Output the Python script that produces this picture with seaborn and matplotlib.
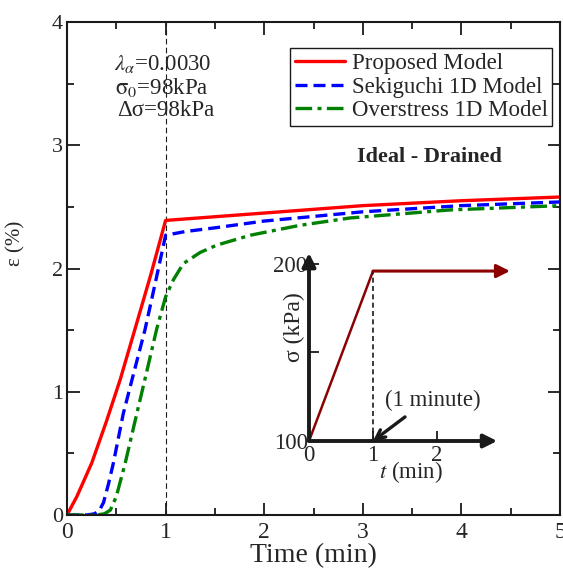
import numpy as np
import pandas as pd
import matplotlib
matplotlib.use("Agg")
import matplotlib.pyplot as plt
import seaborn as sns

# Strain-time response for three constitutive models (ramp loading for 1 min, then creep)
red_t = [0, 0.1, 0.25, 0.4, 0.54, 0.69, 0.85, 1.0, 1.5, 2, 3, 4, 5]
red_e = [0, 0.15, 0.42, 0.76, 1.10, 1.51, 1.95, 2.39, 2.42, 2.45, 2.51, 2.55, 2.58]

blue_t = [0, 0.2, 0.28, 0.33, 0.37, 0.42, 0.47, 0.57, 0.66, 0.79, 0.9, 1.0,
          1.2, 1.5, 2, 3, 4, 5]
blue_e = [0, 0, 0.01, 0.04, 0.1, 0.25, 0.42, 0.82, 1.1, 1.5, 1.9, 2.27,
          2.30, 2.33, 2.385, 2.46, 2.51, 2.54]

green_t = [0, 0.3, 0.38, 0.44, 0.5, 0.59, 0.71, 0.79, 0.91, 1.0, 1.08, 1.18,
           1.35, 1.52, 1.86, 2.36, 2.87, 3.88, 5]
green_e = [0, 0, 0.01, 0.04, 0.15, 0.42, 0.83, 1.1, 1.51, 1.77, 1.91, 2.04,
           2.13, 2.19, 2.27, 2.35, 2.41, 2.475, 2.51]

series_names = ["Proposed Model", "Sekiguchi 1D Model", "Overstress 1D Model"]

# Loading history for the inset
stress_t = [0, 1, 3.14]
stress_kpa = [100, 196, 196]

sns.set_theme(style="ticks")
plt.rcParams["font.family"] = ["Liberation Serif", "DejaVu Serif"]
plt.rcParams["mathtext.fontset"] = "stix"

fig = plt.figure(figsize=(5.63, 5.70), dpi=100)
ax = fig.add_axes([67 / 563, 55 / 570, 493 / 563, 493 / 570])

sns.lineplot(x=red_t, y=red_e, ax=ax, color="#ff0000", lw=2.4,
             label=series_names[0], sort=False)
sns.lineplot(x=blue_t, y=blue_e, ax=ax, color="#0000ff", lw=2.4,
             label=series_names[1], sort=False, linestyle=(0, (3.6, 1.8)))
sns.lineplot(x=green_t, y=green_e, ax=ax, color="#008000", lw=2.4,
             label=series_names[2], sort=False,
             linestyle=(0, (5.0, 1.6, 1.2, 1.6)))

ax.axvline(1, color="k", lw=0.8, ls=(0, (5, 3)), zorder=1)

ax.set_xlim(0, 5)
ax.set_ylim(0, 4)
ax.set_xticks([0, 1, 2, 3, 4, 5])
ax.set_yticks([0, 1, 2, 3, 4])
ax.set_xticks(np.arange(0, 5.01, 0.5), minor=True)
ax.set_yticks(np.arange(0, 4.01, 0.5), minor=True)
ax.tick_params(which="both", direction="in", top=True, right=True,
               width=1.3, color="k")
ax.tick_params(which="major", length=9)
ax.tick_params(which="minor", length=5)
ax.tick_params(axis="x", labelsize=17, pad=5)
ax.tick_params(axis="y", labelsize=16, pad=3)
for s in ax.spines.values():
    s.set_linewidth(1.5)
    s.set_color("k")
    s.set_visible(True)

ax.set_xlabel("Time (min)", fontsize=20, labelpad=0)
ax.set_ylabel("ε (%)", fontsize=15)
ax.yaxis.set_label_coords(-0.085, 0.55)

leg = ax.legend(loc="upper right", bbox_to_anchor=(0.984, 0.947),
                borderaxespad=0, fontsize=16.5, frameon=True, fancybox=False,
                edgecolor="k", framealpha=1, handlelength=2.2,
                handletextpad=0.28, labelspacing=0.12, borderpad=0.2)
leg.get_frame().set_linewidth(1.0)

ax.text(0.195, 0.915, r"$\lambda_\alpha$=0.0030", transform=ax.transAxes,
        ha="center", va="center", fontsize=16.5)
ax.text(0.193, 0.868, r"$\mathrm{\sigma}_0$=98kPa", transform=ax.transAxes,
        ha="center", va="center", fontsize=16.5)
ax.text(0.2, 0.82, "Δσ=98kPa", transform=ax.transAxes,
        ha="center", va="center", fontsize=16.5)
ax.text(0.736, 0.726, "Ideal - Drained", transform=ax.transAxes,
        ha="center", va="center", fontsize=16, fontweight="bold")

# Inset: applied stress history
ins = fig.add_axes([309 / 563, 129 / 570, 204.8 / 563, 188 / 570])
ins.set_facecolor("none")
ins.set_xlim(0, 3.2)
ins.set_ylim(100, 206.2)
for s in ins.spines.values():
    s.set_visible(False)

sns.lineplot(x=stress_t[:2], y=stress_kpa[:2], ax=ins, color="#8b0000",
             lw=1.8, sort=False)
ins.annotate("", xy=(stress_t[2], stress_kpa[2]),
             xytext=(stress_t[1], stress_kpa[1]),
             arrowprops=dict(arrowstyle="-|>", color="#8b0000", lw=2.2,
                             mutation_scale=20, shrinkA=0, shrinkB=0),
             annotation_clip=False)
ins.plot([1, 1], [100, stress_kpa[1]], color="k", lw=1.2, ls=(0, (3, 2)))

# axis arrows
ins.annotate("", xy=(2.94, 100), xytext=(0, 100),
             arrowprops=dict(arrowstyle="-|>", color="k", lw=2.8,
                             mutation_scale=20, shrinkA=0, shrinkB=0),
             annotation_clip=False)
ins.annotate("", xy=(0, 206.2), xytext=(0, 100),
             arrowprops=dict(arrowstyle="-|>", color="k", lw=2.8,
                             mutation_scale=20, shrinkA=0, shrinkB=0),
             annotation_clip=False)

ins.set_xticks([0, 1, 2])
ins.set_xticklabels(["0", "1", "2"])
ins.set_yticks([100, 150, 200])
ins.set_yticklabels(["100", "", "200"])
ins.tick_params(which="both", direction="in", length=7, width=1.3,
                color="k", labelsize=16.5, pad=1)
ins.tick_params(axis="x", pad=3)
ins.set_xlabel("$t$ (min)", fontsize=16.5, labelpad=-5)
ins.set_ylabel("σ (kPa)", fontsize=17)
ins.yaxis.set_label_coords(-0.02, 0.606)

# "1 minute" callout
ins.text(1.94, 123, "(1 minute)", ha="center", va="center", fontsize=16.5)
ins.annotate("", xy=(1.0, 100), xytext=(1.5, 113.6),
             arrowprops=dict(arrowstyle="->", color="k", lw=2.4,
                             mutation_scale=16, shrinkA=0, shrinkB=0),
             annotation_clip=False)

fig.savefig("out.png", dpi=100)
